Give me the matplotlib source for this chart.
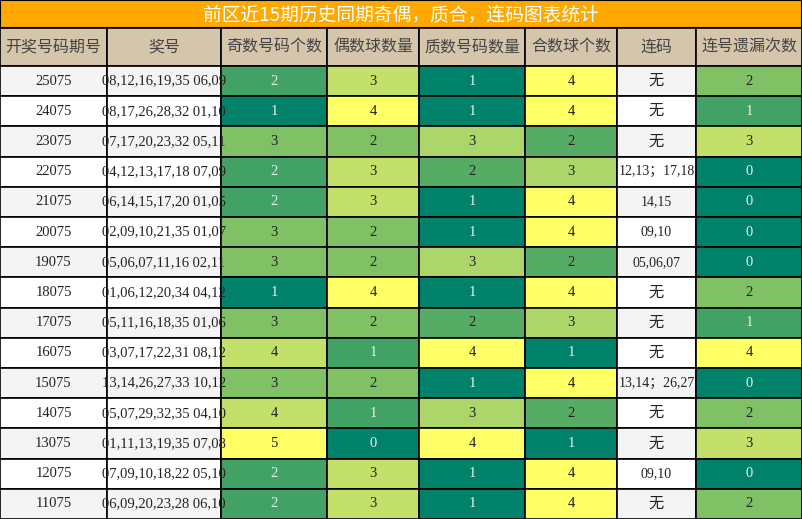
import matplotlib
matplotlib.use("Agg")
import matplotlib.pyplot as plt
from matplotlib.patches import Rectangle
from matplotlib.colors import LinearSegmentedColormap

title = "前区近15期历史同期奇偶，质合，连码图表统计"
headers = ["开奖号码期号", "奖号", "奇数号码个数", "偶数球数量", "质数号码数量", "合数球个数", "连码", "连号遗漏次数"]
periods = ["25075","24075","23075","22075","21075","20075","19075","18075","17075","16075","15075","14075","13075","12075","11075"]
numbers = ["08,12,16,19,35 06,09","08,17,26,28,32 01,10","07,17,20,23,32 05,11","04,12,13,17,18 07,09",
           "06,14,15,17,20 01,05","02,09,10,21,35 01,07","05,06,07,11,16 02,11","01,06,12,20,34 04,12",
           "05,11,16,18,35 01,06","03,07,17,22,31 08,12","13,14,26,27,33 10,12","05,07,29,32,35 04,10",
           "01,11,13,19,35 07,08","07,09,10,18,22 05,10","06,09,20,23,28 06,10"]
odd = [2,1,3,2,2,3,3,1,3,4,3,4,5,2,2]
even = [3,4,2,3,3,2,2,4,2,1,2,1,0,3,3]
prime = [1,1,3,2,1,1,3,1,2,4,1,3,4,1,1]
composite = [4,4,2,3,4,4,2,4,3,1,4,2,1,4,4]
consec = ["无","无","无","12,13；17,18","14,15","09,10","05,06,07","无","无","无","13,14；26,27","无","无","09,10","无"]
miss = [2,1,3,0,0,0,0,2,1,4,0,2,3,0,2]

W, H = 802, 519
cols = [0,107,221,327,419,525,617,696,802]
title_h = 28
head_b = 66
row_h = (H - head_b) / 15

cmap = LinearSegmentedColormap.from_list("c", ["#00826a", "#42a165", "#80c166", "#c2e06a", "#ffff66"])
fonts = ['Liberation Serif', 'Noto Sans CJK SC', 'DejaVu Sans']
cjk = ['Noto Sans CJK SC', 'DejaVu Sans']

fig = plt.figure(figsize=(W/100, H/100), dpi=100)
ax = fig.add_axes([0,0,1,1])
ax.set_xlim(0, W); ax.set_ylim(H, 0); ax.axis('off')

ax.add_patch(Rectangle((0,0), W, title_h, facecolor="#ffa800", edgecolor="black", lw=1.5))
ax.text(W/2, title_h/2+1, title, ha='center', va='center', color='white', fontsize=13.5, family=cjk)
for i, h in enumerate(headers):
    ax.add_patch(Rectangle((cols[i], title_h), cols[i+1]-cols[i], head_b-title_h, facecolor="#d5c5aa", edgecolor="black", lw=1.2))
    ax.text((cols[i]+cols[i+1])/2, (title_h+head_b)/2, h, ha='center', va='center', color='#444444', fontsize=11.5, family=cjk)

numcols = {2: odd, 3: even, 4: prime, 5: composite, 7: miss}
for r in range(15):
    y0 = head_b + r*row_h
    bg = "#f4f4f4" if r % 2 == 0 else "white"
    for c in range(8):
        x0, x1 = cols[c], cols[c+1]
        if c in numcols:
            vals = numcols[c]
            lo, hi = min(vals), max(vals)
            t = (vals[r]-lo)/(hi-lo)
            fc = cmap(t)
            txt = str(vals[r]); tc = "#e8f0e8" if t < 0.3 else "#222222"
        else:
            fc = bg
            txt = [periods[r], numbers[r], None, None, None, None, consec[r]][c]
            tc = "#222222"
        ax.add_patch(Rectangle((x0, y0), x1-x0, row_h, facecolor=fc, edgecolor="black", lw=1.2))
        fs = 10 if c == 6 and txt != "无" else 10.5
        if c == 6 and txt == "无": fs = 11
        ax.text((x0+x1)/2, y0+row_h/2, txt, ha='center', va='center', color=tc, fontsize=fs, family=fonts)

fig.savefig("out.png", dpi=100)
